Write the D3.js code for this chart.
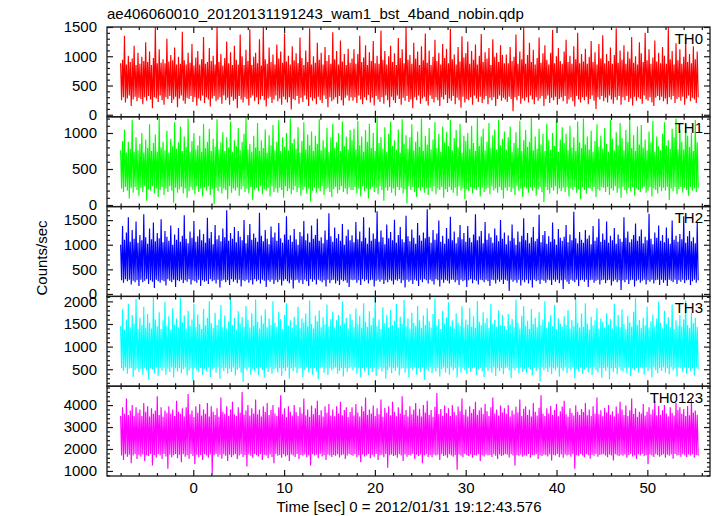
<!DOCTYPE html>
<html><head><meta charset="utf-8">
<script src="https://cdn.jsdelivr.net/npm/d3@7"></script>
<style>body{margin:0;background:#fff}svg{display:block}text{font-family:"Liberation Sans",Arial,Helvetica,sans-serif;fill:#000}</style>
</head><body>
<script>
// ---------- data ----------
const titleText = "ae406060010_20120131191243_wam1_bst_4band_nobin.qdp";
const xLabel = "Time [sec] 0 = 2012/01/31 19:12:43.576";
const yLabel = "Counts/sec";
const bandNames = ["TH0", "TH1", "TH2", "TH3", "TH0123"];
const bandColors = ["#ff0000", "#00ff00", "#0000ff", "#00ffff", "#ff00ff"];
const timeStart = -8.0, timeEnd = 55.6;   // first / last sample time [sec]
const xDomain = [-9.5, 56.9];
const xMajorTicks = [0, 10, 20, 30, 40, 50];
const yDomains = [[-35, 1500], [-22, 1225], [-50, 1775], [125, 2110], [770, 4860]];
const yMajorTicks = [[0, 500, 1000, 1500], [0, 500, 1000], [0, 500, 1000, 1500], [500, 1000, 1500, 2000], [1000, 2000, 3000, 4000]];
const yMinorStep = [100, 100, 100, 100, 200];

const th0 = [
880,250,940,300,1350,210,860,280,1010,330,900,150,960,260,1180,310,850,230,1060,290,
870,270,990,180,920,300,1240,240,900,320,1080,260,850,110,970,300,1500,280,880,220,
1120,330,890,250,950,170,880,300,1300,270,910,320,1020,200,930,260,1150,310,860,130,
990,280,870,330,1420,240,930,190,860,290,1060,270,890,320,1210,220,840,300,980,160,
1090,280,860,240,950,330,1330,200,870,300,900,260,1140,140,920,280,1010,320,860,230,
1500,260,900,300,1040,190,840,330,970,250,1250,290,880,170,1070,310,850,240,1180,270,
940,110,860,320,1370,260,1000,210,850,300,1110,270,920,160,1460,290,850,330,990,230,
1060,300,880,180,1290,260,840,320,1500,250,950,140,870,280,1150,310,900,200,1030,260,
860,330,1200,230,960,280,1080,170,890,310,1390,260,910,210,1010,300,860,90,1170,270,
930,250,1050,320,880,190,1320,290,970,220,850,330,1100,260,900,150,1480,300,860,240,
1000,280,890,180,1230,310,940,250,1060,200,860,330,1160,270,920,130,1020,300,870,230,
1410,260,950,300,1090,190,860,320,1270,250,910,160,1040,290,850,330,1130,240,890,300,
960,240,1120,300,870,200,1040,330,1350,260,900,180,980,300,1190,250,850,340,1070,210,
920,290,1260,160,880,320,1010,260,870,220,1440,300,940,190,1090,330,860,250,1000,130,
1180,310,900,250,1050,200,850,330,1310,270,970,170,1120,290,880,240,1500,320,940,220,
1020,260,870,110,1230,300,960,250,1080,330,850,190,1170,280,930,310,1390,230,890,160,
1100,330,850,270,990,210,1280,300,920,250,1060,150,860,300,1210,260,970,340,1130,200,
880,280,1470,240,950,320,1030,180,860,290,1160,250,910,120,1340,310,980,210,1050,270,
1250,250,870,300,1090,170,940,330,1200,280,860,220,1010,310,1380,200,900,260,1070,320,
960,180,1140,290,850,250,1290,300,990,150,1060,270,900,330,1190,240,1020,290,880,260,
1030,220,880,310,1160,270,920,60,990,300,1370,250,870,320,1080,190,950,280,1500,240,
870,300,1020,210,1230,330,900,260,1110,180,860,300,970,240,1320,280,890,320,1050,150,
1190,270,940,330,860,200,1060,290,1450,250,880,310,1000,170,1140,270,920,300,870,230,
1080,320,1280,190,900,260,1010,300,870,230,1170,140,950,320,1400,260,880,210,1040,300,
910,250,1130,310,870,180,990,270,1260,330,900,240,1070,100,860,300,1210,260,960,320,
1360,230,880,290,1040,210,920,330,1150,260,870,190,1020,300,1480,250,890,320,1100,170,
940,300,1190,250,870,320,1080,220,960,280,1330,160,890,310,1000,240,860,300,1240,270,
1050,190,900,330,1400,260,930,240,1120,300,870,210,980,150,1270,290,910,320,1060,250,
880,310,1160,230,1010,280,870,180,1500,300,950,260,1090,320,860,200,1220,270,930,300,
1120,240,870,310,990,170,1300,280,900,330,1040,230,880,290,1170,260,950,200,1080,300];
const th1 = [
760,230,890,180,1050,250,730,200,880,90,780,240,1180,170,740,250,940,210,760,130,
850,240,1000,180,730,260,910,60,790,220,1120,200,750,260,860,160,980,230,740,110,
1210,210,800,250,880,140,760,230,1030,180,730,260,920,200,820,30,1150,240,780,170,
870,220,1090,250,750,160,950,230,810,100,1200,190,740,250,890,210,1000,150,770,260,
830,180,960,230,740,120,1130,240,790,200,880,260,1060,140,750,220,920,10,810,240,
1190,190,770,250,870,160,1010,230,750,210,940,80,800,260,1160,170,740,230,900,200,
820,240,1070,130,760,220,880,260,990,180,1220,230,770,160,850,250,740,70,960,210,
800,240,1140,190,750,260,900,150,790,220,1050,200,730,240,970,120,830,260,1110,180,
760,230,880,170,1180,240,750,210,940,100,810,260,1000,190,760,230,1200,150,860,210,
920,260,780,180,1080,240,730,130,890,210,1150,250,770,160,980,230,830,50,1020,200,
750,240,960,170,850,230,1190,190,760,260,900,140,800,220,1070,240,740,180,940,110,
1130,220,790,250,870,160,1000,210,750,260,1160,180,820,230,950,150,770,240,1040,210,
900,210,1060,250,770,160,1170,230,830,120,950,260,740,190,1040,230,880,90,1130,220,
790,250,1000,180,750,240,1210,150,860,260,940,210,780,60,1080,240,740,200,990,250,
1160,170,820,230,900,130,770,250,1050,210,730,240,1190,160,850,220,970,20,780,260,
940,210,1120,250,760,180,880,110,1020,240,810,200,1200,250,750,170,960,230,840,140,
1070,240,770,190,910,260,1150,150,790,230,990,210,740,250,1090,100,870,220,1010,180,
820,250,1180,210,760,170,930,240,1040,130,800,260,1130,200,730,230,960,80,890,220,
1000,190,780,250,1100,160,860,230,750,210,1210,250,820,120,950,240,1060,180,760,220,
880,240,1140,150,790,260,970,200,1050,230,770,170,1180,250,830,210,920,90,1020,240,
770,200,940,250,1090,180,740,230,860,140,1010,260,790,200,1170,230,750,110,900,250,
1040,230,810,170,880,250,1220,200,760,240,950,130,780,220,1060,250,840,180,990,40,
750,250,1130,210,900,160,770,240,1000,200,820,260,1190,150,740,230,910,190,1080,240,
860,180,990,250,760,120,1100,230,800,210,940,250,750,170,1160,220,870,80,790,250,
1200,210,840,160,950,240,770,230,1030,190,740,250,890,110,1120,220,810,200,960,250,
780,240,1070,180,850,250,740,140,1180,230,920,200,760,260,1010,170,830,230,1140,100,
930,250,760,210,1040,160,880,240,1210,190,790,250,970,130,750,230,1090,210,840,180,
1110,230,800,250,910,170,760,200,1020,250,870,120,1170,230,740,210,950,160,820,250,
760,190,990,240,1150,200,830,250,900,70,780,230,1060,190,940,250,1200,150,770,220,
1050,250,880,170,770,240,1120,210,960,130,810,250,1000,200,750,230,1180,180,870,240];
const th2 = [
1000,280,1380,230,1100,300,1250,260,1560,290,1060,190,1300,270,1120,240,1470,280,1040,160,
1200,290,1090,240,1620,270,1150,300,1020,200,1330,280,1110,250,1450,120,1070,290,1240,260,
1130,230,1520,280,1050,260,1280,170,1160,300,1080,270,1390,240,1000,290,1210,140,1100,280,
1340,260,1060,290,1180,220,1600,280,1120,250,1030,300,1270,190,1140,280,1480,260,1060,230,
1170,290,1310,160,1090,280,1220,250,1040,270,1550,200,1130,300,1260,260,1010,280,1400,210,
1110,290,1190,130,1070,270,1330,290,1150,240,1700,280,1080,180,1240,300,1120,250,1360,290,
1050,220,1280,290,1160,150,1090,280,1500,260,1030,290,1200,230,1420,280,1100,190,1230,300,
1140,260,1060,290,1650,210,1180,290,1070,270,1300,140,1120,280,1010,250,1370,290,1150,200,
1250,280,1080,240,1440,290,1130,170,1040,270,1210,300,1580,260,1100,220,1190,290,1060,110,
1320,280,1110,290,1000,230,1260,280,1170,200,1480,290,1090,260,1230,160,1050,300,1390,250,
1120,290,1200,190,1530,290,1080,270,1150,240,1030,280,1290,150,1100,290,1640,220,1170,280,
1060,290,1350,210,1130,270,1220,180,1080,290,1420,260,1000,280,1180,230,1310,140,1090,290,
1190,280,1050,290,1460,230,1110,280,1270,180,1070,300,1560,260,1140,290,1020,210,1350,280,
1080,290,1230,150,1120,270,1680,290,1060,250,1290,290,1150,200,1010,280,1410,240,1130,290,
1260,270,1090,190,1510,290,1040,270,1200,300,1360,220,1110,280,1050,130,1590,290,1170,250,
1070,280,1310,200,1140,290,1020,270,1440,160,1190,290,1080,240,1250,300,1130,280,1720,210,
1160,290,1040,260,1300,190,1100,300,1230,280,1490,150,1060,290,1180,230,1020,290,1340,270,
1120,210,1570,290,1090,290,1270,240,1030,280,1150,180,1400,290,1110,260,1240,280,1060,140,
1380,280,1140,300,1050,220,1210,290,1620,270,1090,190,1170,290,1280,280,1030,240,1460,290,
1100,260,1230,160,1150,290,1040,280,1330,210,1190,290,1070,250,1500,290,1120,200,1250,290,
1010,270,1190,60,1080,290,1410,250,1130,280,1000,230,1270,290,1060,170,1180,280,1540,240,
1090,290,1240,210,1030,280,1150,130,1360,290,1070,260,1120,280,1610,200,1050,290,1200,270,
1280,230,1020,290,1170,280,1060,180,1450,290,1110,250,1000,290,1320,220,1140,280,1080,100,
1160,290,1400,250,1050,200,1210,290,1090,270,1670,240,1130,290,1030,160,1260,280,1100,290,
1040,250,1300,290,1120,140,1190,280,1010,290,1380,230,1080,270,1150,290,1530,190,1060,280,
1230,290,1100,220,1470,280,1040,290,1180,170,1090,260,1340,290,1020,240,1210,280,1120,80,
1060,280,1560,240,1140,290,1270,200,1050,280,1110,290,1200,150,1430,270,1080,290,1170,230,
1310,270,1030,290,1160,190,1090,280,1630,250,1120,290,1010,210,1250,280,1140,290,1390,180,
1080,290,1200,230,1050,280,1350,160,1130,290,1020,270,1490,240,1100,290,1180,200,1060,280,
1220,250,1110,290,1580,220,1040,280,1170,290,1280,180,1070,260,1150,290,1030,230,1440,280];
const th3 = [
1450,520,1820,460,1380,540,1600,400,1950,510,1420,530,1700,330,1500,480,2050,520,1390,440,
1640,510,1480,380,1880,530,1410,470,1720,280,1530,520,1400,490,2100,410,1600,540,1450,350,
1760,520,1390,470,1580,530,1990,380,1450,510,1670,440,1380,540,1850,320,1490,520,1620,450,
1420,530,2080,410,1540,500,1690,540,1400,360,1790,470,1460,520,1600,250,1950,530,1430,480,
1710,440,1500,530,1390,380,1830,510,1470,460,1640,540,2000,330,1520,500,1410,530,1750,420,
1480,540,1600,290,1920,520,1430,460,1690,530,1400,400,1560,510,2060,440,1470,540,1630,360,
1380,490,1780,530,1510,420,1660,220,1440,520,1900,470,1590,540,1420,380,1740,510,1460,450,
2040,530,1550,370,1400,540,1690,480,1510,310,1820,520,1430,440,1620,540,1480,400,2000,500,
1530,520,1440,430,1770,530,1610,350,1390,520,1700,460,1960,540,1460,290,1580,520,1420,460,
1660,540,1490,410,1880,510,1410,530,1620,320,1540,480,1730,540,1450,430,2020,520,1500,380,
1400,530,1690,450,1560,280,1800,520,1430,540,1650,420,1490,520,1930,370,1450,530,1610,470,
1770,510,1420,540,1580,400,1700,460,1470,520,1990,340,1510,530,1640,440,1400,520,1720,540,
1590,470,1430,540,1840,400,1500,520,1680,320,1410,530,1960,450,1550,540,1440,370,1780,520,
1470,440,1640,530,2090,350,1450,500,1600,540,1390,450,1870,520,1520,290,1700,480,1430,540,
1810,410,1480,520,1570,460,1940,540,1420,360,1660,510,1500,530,2030,420,1450,520,1620,320,
1400,530,1750,480,1520,540,1460,380,1900,520,1580,440,1410,540,1690,270,1480,510,1850,460,
1560,540,1420,410,1720,520,2070,450,1470,530,1610,340,1390,500,1790,540,1510,430,1650,520,
1980,380,1450,540,1580,470,1400,520,1740,310,1530,540,1460,420,1890,520,1420,480,1600,400,
1490,530,1860,440,1440,520,1670,540,1410,370,2010,500,1550,530,1470,450,1760,330,1520,540,
1630,460,1410,530,1950,420,1500,540,1590,350,1440,520,1800,460,1480,530,1700,390,1460,520,
1380,540,1720,470,1490,300,1610,520,1420,480,2040,530,1530,410,1400,540,1680,440,1900,510,
1460,420,1570,540,1390,500,1830,360,1500,530,1640,460,1430,520,1760,230,1480,540,1600,480,
2000,520,1410,440,1550,540,1700,390,1450,520,1920,470,1390,540,1620,340,1510,520,1440,460,
1670,540,1480,410,1810,520,1400,470,1590,540,1450,300,2060,510,1530,450,1420,540,1730,400,
1440,500,1960,540,1510,430,1380,520,1660,370,1470,540,1580,480,1850,420,1400,530,1620,310,
1550,530,1420,460,1740,540,1490,280,1610,520,1400,440,1950,530,1460,390,1700,540,1430,470,
1820,450,1500,530,1390,410,1680,540,1540,350,1440,520,1770,470,2080,530,1480,430,1590,540,
1410,520,1640,380,1470,540,1880,460,1420,520,1560,320,1710,540,1450,480,1620,410,1990,530,
1530,460,1400,540,1790,430,1500,520,1650,390,1430,540,1930,470,1390,520,1580,340,1460,540,
1700,520,1450,440,1600,540,2020,400,1480,530,1410,460,1750,520,1520,360,1640,540,1440,500];
const th0123 = [
3500,1700,3900,1500,3600,1760,4300,1650,3550,1740,3750,1350,4000,1700,3500,1770,3900,1550,3650,1720,
3800,1650,3500,1750,4100,1450,3700,1720,3950,1680,3480,1770,3850,1250,3600,1730,3750,1600,4400,1760,
3550,1700,3900,1550,3470,1770,3750,1660,3650,1100,3950,1740,3600,1620,3800,1720,3500,1770,4200,1580,
3700,1740,3600,1400,3850,1760,3480,1650,3900,1720,4500,1560,3580,1770,3750,1680,3460,1300,3950,1740,
3650,1620,4050,1730,3520,1500,3800,1760,3600,1700,4100,1600,3480,1750,3950,900,3700,1720,3550,1770,
3850,1650,3470,1740,4350,1560,3700,1760,3600,1690,3950,1450,3500,1740,3800,1630,4150,1720,3580,1770,
3500,1550,3900,1700,3650,1760,4600,1640,3560,1730,3750,1200,4000,1750,3520,1690,3850,1600,3620,1770,
4250,1720,3580,1660,3800,1760,3480,1500,3950,1740,3680,1700,4100,1580,3550,1750,3780,1640,4000,1350,
3620,1770,3500,1690,3900,1730,4450,1600,3580,1760,3850,1660,3460,1720,3950,1450,3700,1750,3530,1700,
4000,1640,3680,1770,3500,1550,3900,1730,3620,1690,4300,1750,3540,1620,3800,1720,3470,1250,3980,1760,
3580,1700,3850,1740,4200,1580,3550,1770,3760,1660,3480,1720,3950,1500,3650,1750,4050,1700,3530,1640,
3800,1730,3490,1690,3950,1760,3620,1610,4150,1720,3540,1750,3780,1550,3900,1700,3460,1770,3680,1730,
3900,1690,3520,1760,4050,1620,3660,1730,3480,1400,3950,1750,3720,1660,4350,1720,3550,1770,3800,1580,
3620,1740,3980,1650,3500,1770,3850,1500,3580,1710,4250,1740,3470,1620,3880,1770,3650,1150,3950,1720,
3540,1750,4150,1680,3700,1720,3490,1600,3900,1760,3620,1700,4400,1450,3560,1750,3780,1650,3480,1730,
3950,1700,3580,1770,3800,1550,4100,1740,3530,1680,3830,1750,3480,1350,4000,1710,3660,1760,4200,1640,
3560,1720,3780,1630,3470,1750,3920,1700,4550,1740,3590,1500,3820,1770,3510,1680,3980,1720,3640,1600,
3850,1760,3500,1700,4000,1650,3680,1730,3540,1050,3930,1750,3720,1690,4300,1620,3560,1770,3800,1720,
3480,1680,3950,1750,3640,1600,3820,1730,4150,1700,3560,1760,3760,1450,3890,1720,3590,1660,4050,1750,
3720,1700,3500,1730,3900,1640,4350,1760,3620,1690,3800,1550,3530,1750,3980,1680,3660,1720,3850,1770,
3600,1740,4000,1610,3480,1760,3750,1700,3580,1250,3920,1730,3660,1690,4250,1750,3500,1650,3830,1720,
3950,1690,3550,1770,3800,1600,3480,1730,4100,1710,3700,1760,3520,1540,3880,1720,4450,1680,3600,1750,
3500,1720,3850,1660,3620,1750,3960,1480,3560,1740,3780,1700,4050,1770,3490,1630,3720,1750,3940,1600,
4200,1750,3580,1700,3470,1740,3860,1650,3640,1760,3520,1100,3990,1720,3700,1690,3550,1770,3820,1700,
3680,1630,4100,1760,3540,1720,3800,1560,3500,1740,3950,1690,3610,1770,4350,1650,3580,1730,3760,1750,
3490,1760,3870,1700,3660,1620,4000,1750,3560,1700,3720,1480,3480,1760,3930,1720,3620,1680,4150,1740,
3800,1690,3550,1750,3980,1600,3500,1730,3760,1770,4300,1660,3590,1720,3850,1540,3470,1760,3700,1700,
3620,1770,4050,1680,3520,1730,3700,1300,3900,1750,3580,1700,3800,1640,4200,1760,3540,1720,3960,1650,
3560,1720,3760,1760,4000,1600,3620,1740,3480,1690,3900,1750,3650,1560,3520,1770,4100,1700,3780,1730,
3900,1650,3600,1760,3820,1720,3500,1640,3960,1750,3540,1700,4250,1760,3660,1600,3750,1730,3560,1700];
const bandValues = [th0, th1, th2, th3, th0123];

// ---------- layout ----------
const W = 717, H = 516;
const L = 107, R = 710, T = 27, panelH = 89.8;
const svg = d3.select("body").append("svg").attr("width", W).attr("height", H);
const x = d3.scaleLinear().domain(xDomain).range([L, R]);
const xMinor = d3.range(-8, 57, 2).filter(v => !xMajorTicks.includes(v));
const frameCol = "#1a1a1a";

svg.append("text").attr("x", L).attr("y", 19).attr("font-size", 15).text(titleText);

bandValues.forEach((vals, i) => {
  const top = T + i * panelH, bot = top + panelH;
  const y = d3.scaleLinear().domain(yDomains[i]).range([bot, top]);
  const n = vals.length;
  const tScale = d3.scaleLinear().domain([0, n - 1]).range([timeStart, timeEnd]);
  const g = svg.append("g");
  const cid = "clip" + i;
  g.append("clipPath").attr("id", cid).append("rect")
    .attr("x", L).attr("y", top).attr("width", R - L).attr("height", panelH);
  const line = d3.line().x((d, k) => x(tScale(k))).y(d => y(d));
  g.append("path").datum(vals).attr("clip-path", `url(#${cid})`)
    .attr("d", line).attr("fill", "none").attr("stroke", bandColors[i])
    .attr("stroke-width", 1.15).attr("stroke-linejoin", "bevel");

  const yMin = d3.range(Math.ceil(yDomains[i][0] / yMinorStep[i]) * yMinorStep[i], yDomains[i][1] + 1, yMinorStep[i])
    .filter(v => !yMajorTicks[i].includes(v));
  const yl = g.append("g").attr("transform", `translate(${L},0)`)
    .call(d3.axisLeft(y).tickValues(yMajorTicks[i]).tickSize(-6).tickPadding(10).tickFormat(d3.format("d")));
  const yl2 = g.append("g").attr("transform", `translate(${L},0)`)
    .call(d3.axisLeft(y).tickValues(yMin).tickSize(-3).tickFormat(""));
  const yr = g.append("g").attr("transform", `translate(${R},0)`)
    .call(d3.axisRight(y).tickValues(yMajorTicks[i]).tickSize(-6).tickFormat(""));
  const yr2 = g.append("g").attr("transform", `translate(${R},0)`)
    .call(d3.axisRight(y).tickValues(yMin).tickSize(-3).tickFormat(""));
  const xt = g.append("g").attr("transform", `translate(0,${top})`)
    .call(d3.axisTop(x).tickValues(xMajorTicks).tickSize(-6).tickFormat(""));
  const xt2 = g.append("g").attr("transform", `translate(0,${top})`)
    .call(d3.axisTop(x).tickValues(xMinor).tickSize(-3).tickFormat(""));
  const xb = g.append("g").attr("transform", `translate(0,${bot})`)
    .call(d3.axisBottom(x).tickValues(xMajorTicks).tickSize(-6).tickPadding(6)
      .tickFormat(i === bandValues.length - 1 ? d3.format("d") : ""));
  const xb2 = g.append("g").attr("transform", `translate(0,${bot})`)
    .call(d3.axisBottom(x).tickValues(xMinor).tickSize(-3).tickFormat(""));
  [yl, yl2, yr, yr2, xt, xt2, xb, xb2].forEach(a => {
    a.select(".domain").remove();
    a.selectAll("line").attr("stroke", frameCol).attr("stroke-width", 1.2);
    a.selectAll("text").attr("font-size", 15).attr("font-family", '"Liberation Sans",Arial,sans-serif').attr("fill", "#000");
  });
  g.append("rect").attr("x", L).attr("y", top).attr("width", R - L).attr("height", panelH)
    .attr("fill", "none").attr("stroke", frameCol).attr("stroke-width", 1.3);
  g.append("text").attr("x", 703).attr("y", top + 16.5).attr("text-anchor", "end")
    .attr("font-size", 15).text(bandNames[i]);
});

svg.append("text").attr("transform", "translate(47,258) rotate(-90)")
  .attr("text-anchor", "middle").attr("font-size", 15).text(yLabel);
svg.append("text").attr("x", 409).attr("y", 512).attr("text-anchor", "middle")
  .attr("font-size", 15).text(xLabel);
</script>
</body></html>
